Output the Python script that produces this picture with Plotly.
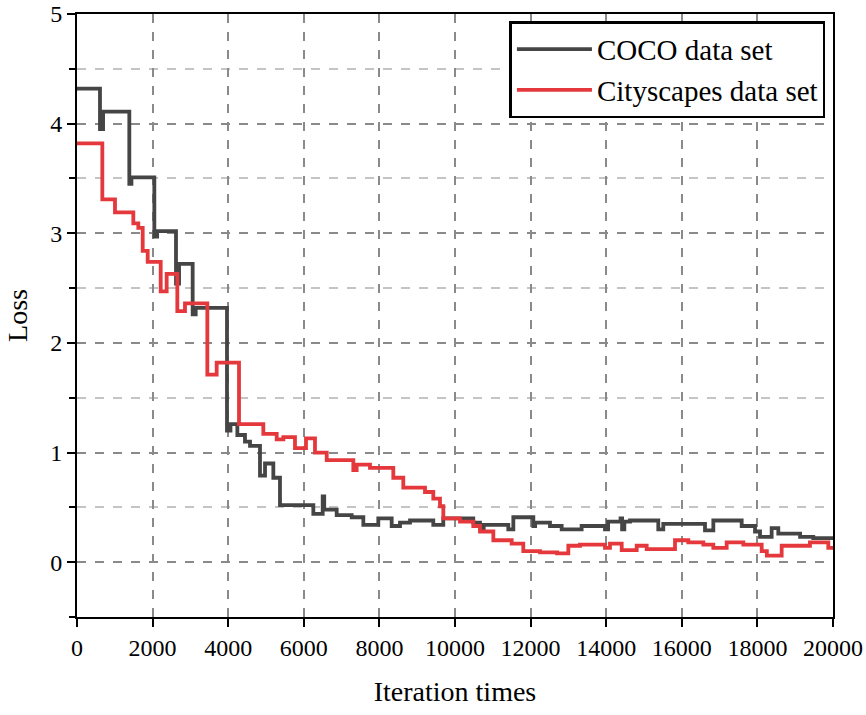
import plotly.graph_objects as go

coco_x = [0, 608, 690, 1384, 1440, 2046, 2120, 2619, 2700, 3060, 3140, 3968, 4060, 4242, 4444, 4577,
          4841, 4974, 5194, 5370, 6252, 6500, 6540, 6870, 7267, 7575, 7971, 8325, 8545, 8810, 9426,
          9690, 10484, 10661, 10760, 11410, 11543, 12072, 12120, 12513, 12822, 13350, 13968, 14050,
          14380, 14420, 14480, 14630, 15378, 15510, 16614, 16834, 17584, 17937, 18069, 18377, 18553,
          19129, 19478, 20000]
coco_y = [4.32, 3.95, 4.11, 3.45, 3.51, 2.97, 3.02, 2.54, 2.72, 2.26, 2.32, 1.20, 1.26, 1.16, 1.10, 1.06,
          0.79, 0.90, 0.77, 0.52, 0.44, 0.60, 0.48, 0.43, 0.41, 0.34, 0.40, 0.33, 0.36, 0.38, 0.34,
          0.40, 0.36, 0.31, 0.34, 0.30, 0.41, 0.33, 0.36, 0.33, 0.30, 0.33, 0.30, 0.37,
          0.40, 0.30, 0.37, 0.38, 0.30, 0.35, 0.29, 0.38, 0.33, 0.28, 0.23, 0.31, 0.26,
          0.23, 0.22, 0.22]

city_x = [0, 670, 1005, 1490, 1622, 1738, 1870, 2214, 2372, 2654, 2857, 3448, 3695, 4286, 4929, 5283,
          5459, 5767, 6058, 6296, 6606, 7310, 7398, 7751, 8368, 8632, 9206, 9426, 9603, 9691, 10132,
          10484, 10661, 11014, 11499, 11807, 12249, 12700, 12998, 13307, 13968, 14100, 14410, 14807,
          15071, 15820, 16172, 16570, 16834, 17187, 17628, 18113, 18250, 18642, 19390, 19876, 20000]
city_y = [3.82, 3.31, 3.19, 3.09, 3.05, 2.84, 2.74, 2.47, 2.63, 2.29, 2.36, 1.71, 1.82, 1.26, 1.17, 1.12,
          1.14, 1.04, 1.13, 1.00, 0.93, 0.84, 0.89, 0.86, 0.77, 0.68, 0.64, 0.58, 0.51, 0.40, 0.37,
          0.33, 0.28, 0.20, 0.17, 0.10, 0.09, 0.08, 0.15, 0.16, 0.13, 0.17, 0.11, 0.15,
          0.12, 0.20, 0.18, 0.16, 0.13, 0.18, 0.16, 0.10, 0.06, 0.15, 0.18, 0.13, 0.13]

x_ticks = list(range(0, 20001, 2000))
y_ticks = [0, 1, 2, 3, 4, 5]

FONT = "Liberation Serif, Times New Roman, serif"

fig = go.Figure()
fig.add_trace(go.Scatter(x=coco_x, y=coco_y, mode="lines", line=dict(color="#454545", width=3.8, shape="hv"),
                         name="COCO data set"))
fig.add_trace(go.Scatter(x=city_x, y=city_y, mode="lines", line=dict(color="#e5383d", width=3.8, shape="hv"),
                         name="Cityscapes data set"))

fig.update_layout(
    width=866, height=715,
    margin=dict(l=77, r=33, t=14, b=98, autoexpand=False),
    paper_bgcolor="white", plot_bgcolor="white",
    font=dict(family=FONT, size=24, color="black"),
    showlegend=True,
    legend=dict(x=0.99, y=0.988, xanchor="right", yanchor="top",
                bgcolor="white", bordercolor="black", borderwidth=2.5,
                font=dict(family=FONT, size=29), itemwidth=75, tracegroupgap=0),
    xaxis=dict(range=[0, 20000], tickvals=x_ticks, ticktext=[str(v) for v in x_ticks],
               automargin=False, ticklabeloverflow="allow",
               showline=True, linecolor="black", linewidth=2, mirror=True,
               ticks="outside", ticklen=8, tickwidth=2, tickcolor="black",
               showgrid=True, gridcolor="#8a8a8a", gridwidth=1.5, griddash="dash",
               zeroline=False,
               title=dict(text="Iteration times", font=dict(family=FONT, size=28), standoff=22),
               tickfont=dict(family=FONT, size=24)),
    yaxis=dict(range=[-0.5, 5], tickvals=y_ticks,
               automargin=False, ticklabeloverflow="allow",
               showline=True, linecolor="black", linewidth=2, mirror=True,
               ticks="outside", ticklen=8, tickwidth=2, tickcolor="black",
               showgrid=True, gridcolor="#8a8a8a", gridwidth=1.5, griddash="dash",
               zeroline=False,
               minor=dict(dtick=0.5, tick0=0, showgrid=True, gridcolor="#c4c4c4", gridwidth=1.5,
                          griddash="dash", ticks="outside", ticklen=6, tickcolor="black", tickwidth=2),
               title=dict(text="Loss", font=dict(family=FONT, size=28), standoff=14),
               tickfont=dict(family=FONT, size=24)),
)

fig.write_html("out.html")
